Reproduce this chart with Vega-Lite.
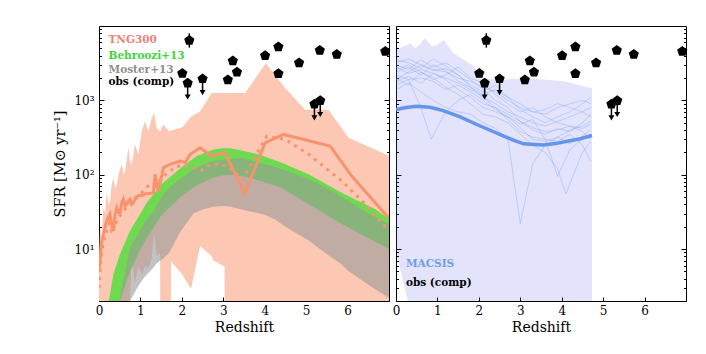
{
  "$schema": "https://vega.github.io/schema/vega-lite/v6.json",
  "background": "white",
  "padding": {"left": 52, "top": 25, "right": 5, "bottom": 5},
  "spacing": 0,
  "config": {
    "view": {"stroke": "black", "strokeWidth": 1},
    "font": "DejaVu Serif",
    "axis": {"grid": false, "domain": false, "labelFont": "DejaVu Serif", "titleFont": "DejaVu Serif", "labelColor": "black", "titleColor": "black", "tickColor": "black", "titleFontWeight": "normal", "labelFontSize": 12, "titleFontSize": 14, "tickWidth": 1}
  },
  "datasets": {
    "tngband": [
      {"z": 0.0, "hi": 6, "lo": 0.5}, {"z": 0.025, "hi": 19.5, "lo": 0.5}, {"z": 0.06, "hi": 14, "lo": 0.5},
      {"z": 0.105, "hi": 36, "lo": 0.5}, {"z": 0.15, "hi": 30, "lo": 0.5}, {"z": 0.186, "hi": 60, "lo": 0.5},
      {"z": 0.23, "hi": 40, "lo": 0.5}, {"z": 0.266, "hi": 44, "lo": 0.5}, {"z": 0.3, "hi": 70, "lo": 0.5},
      {"z": 0.347, "hi": 91, "lo": 0.5}, {"z": 0.39, "hi": 65, "lo": 0.5}, {"z": 0.428, "hi": 74, "lo": 0.5},
      {"z": 0.49, "hi": 110, "lo": 0.5}, {"z": 0.548, "hi": 138, "lo": 0.5}, {"z": 0.6, "hi": 100, "lo": 0.5},
      {"z": 0.629, "hi": 112, "lo": 0.5}, {"z": 0.709, "hi": 230, "lo": 0.5}, {"z": 0.75, "hi": 150, "lo": 2.2},
      {"z": 0.79, "hi": 138, "lo": 7.4}, {"z": 0.87, "hi": 255, "lo": 3.5}, {"z": 0.951, "hi": 188, "lo": 6},
      {"z": 1.031, "hi": 385, "lo": 4.5}, {"z": 1.112, "hi": 523, "lo": 6}, {"z": 1.192, "hi": 385, "lo": 5.5},
      {"z": 1.273, "hi": 580, "lo": 7.5}, {"z": 1.329, "hi": 676, "lo": 16.7}, {"z": 1.393, "hi": 426, "lo": 8},
      {"z": 1.474, "hi": 385, "lo": 9}, {"z": 1.48, "hi": 390, "lo": 0.5}, {"z": 1.555, "hi": 472, "lo": 0.5},
      {"z": 1.691, "hi": 385, "lo": 0.5}, {"z": 1.73, "hi": 390, "lo": 0.5}, {"z": 1.74, "hi": 392, "lo": 6.8},
      {"z": 2.014, "hi": 435, "lo": 4.5}, {"z": 2.22, "hi": 600, "lo": 2.9}, {"z": 2.44, "hi": 713, "lo": 11},
      {"z": 2.722, "hi": 1253, "lo": 8.0}, {"z": 2.76, "hi": 1253, "lo": 7.0}, {"z": 3.03, "hi": 1253, "lo": 5.8},
      {"z": 3.04, "hi": 1253, "lo": 0.5}, {"z": 3.527, "hi": 1253, "lo": 0.5}, {"z": 4.027, "hi": 3155, "lo": 0.5},
      {"z": 4.493, "hi": 1462, "lo": 0.5}, {"z": 4.976, "hi": 750, "lo": 0.5}, {"z": 5.54, "hi": 750, "lo": 0.5},
      {"z": 6.024, "hi": 313, "lo": 0.5}, {"z": 7.0, "hi": 180, "lo": 0.5}
    ],
    "behroozi": [
      {"z": 0.2, "hi": 1.5, "lo": 0.5}, {"z": 0.3, "hi": 3.2, "lo": 0.5}, {"z": 0.35, "hi": 4.6, "lo": 1.2},
      {"z": 0.5, "hi": 8.4, "lo": 2.0}, {"z": 0.75, "hi": 17.6, "lo": 5}, {"z": 1.0, "hi": 30, "lo": 10},
      {"z": 1.15, "hi": 42, "lo": 14}, {"z": 1.5, "hi": 74, "lo": 28}, {"z": 2.0, "hi": 127, "lo": 52},
      {"z": 2.36, "hi": 178, "lo": 72}, {"z": 2.76, "hi": 219, "lo": 92}, {"z": 3.0, "hi": 226, "lo": 98},
      {"z": 3.17, "hi": 226, "lo": 100}, {"z": 3.45, "hi": 212, "lo": 96}, {"z": 3.85, "hi": 188, "lo": 84},
      {"z": 4.41, "hi": 145, "lo": 66}, {"z": 5.06, "hi": 101, "lo": 40}, {"z": 5.86, "hi": 57, "lo": 21.7},
      {"z": 6.67, "hi": 34.4, "lo": 12.5}, {"z": 7.0, "hi": 25.3, "lo": 10}
    ],
    "moster": [
      {"z": 0.45, "hi": 1.5, "lo": 0.5}, {"z": 0.55, "hi": 3, "lo": 1.9}, {"z": 0.75, "hi": 10.5, "lo": 2.0},
      {"z": 0.95, "hi": 16, "lo": 3.2}, {"z": 1.1, "hi": 23, "lo": 4.2}, {"z": 1.3, "hi": 31, "lo": 5.5},
      {"z": 1.4, "hi": 39, "lo": 6.5}, {"z": 1.56, "hi": 55, "lo": 7.5}, {"z": 1.7, "hi": 68, "lo": 9},
      {"z": 1.96, "hi": 87, "lo": 17}, {"z": 2.28, "hi": 118, "lo": 30}, {"z": 2.5, "hi": 135, "lo": 34},
      {"z": 2.76, "hi": 152, "lo": 37}, {"z": 3.0, "hi": 160, "lo": 38}, {"z": 3.17, "hi": 163, "lo": 37},
      {"z": 3.45, "hi": 168, "lo": 34}, {"z": 4.0, "hi": 138, "lo": 29}, {"z": 4.25, "hi": 128, "lo": 25},
      {"z": 4.5, "hi": 115, "lo": 20}, {"z": 5.06, "hi": 87, "lo": 13}, {"z": 5.5, "hi": 66, "lo": 8.5},
      {"z": 5.86, "hi": 50, "lo": 6.2}, {"z": 6.0, "hi": 45, "lo": 5.2}, {"z": 6.5, "hi": 30, "lo": 3.3},
      {"z": 7.0, "hi": 21.7, "lo": 2.2}
    ],
    "tngsolid": [
      {"z": 0.0, "v": 5}, {"z": 0.025, "v": 7}, {"z": 0.06, "v": 12}, {"z": 0.106, "v": 15.9}, {"z": 0.15, "v": 20},
      {"z": 0.186, "v": 24}, {"z": 0.23, "v": 27}, {"z": 0.266, "v": 29.5}, {"z": 0.3, "v": 22}, {"z": 0.347, "v": 17.6},
      {"z": 0.39, "v": 30}, {"z": 0.428, "v": 36}, {"z": 0.47, "v": 31}, {"z": 0.508, "v": 31}, {"z": 0.55, "v": 42},
      {"z": 0.588, "v": 47}, {"z": 0.63, "v": 38}, {"z": 0.669, "v": 40}, {"z": 0.71, "v": 45}, {"z": 0.749, "v": 47},
      {"z": 0.79, "v": 40}, {"z": 0.83, "v": 42}, {"z": 0.89, "v": 50}, {"z": 0.95, "v": 52}, {"z": 1.05, "v": 53},
      {"z": 1.152, "v": 56}, {"z": 1.25, "v": 56}, {"z": 1.313, "v": 57}, {"z": 1.353, "v": 101}, {"z": 1.434, "v": 60.5},
      {"z": 1.555, "v": 124}, {"z": 1.716, "v": 138}, {"z": 1.957, "v": 152}, {"z": 2.08, "v": 145}, {"z": 2.2, "v": 188},
      {"z": 2.44, "v": 230}, {"z": 2.72, "v": 178}, {"z": 3.04, "v": 197}, {"z": 3.52, "v": 56}, {"z": 4.01, "v": 268},
      {"z": 4.45, "v": 348}, {"z": 5.58, "v": 242}, {"z": 6.1, "v": 96}, {"z": 7.0, "v": 26}
    ],
    "tngdot": [
      {"z": 0.0, "v": 3}, {"z": 0.05, "v": 8}, {"z": 0.1, "v": 12}, {"z": 0.186, "v": 17.6}, {"z": 0.25, "v": 22},
      {"z": 0.3, "v": 18}, {"z": 0.43, "v": 24}, {"z": 0.5, "v": 28}, {"z": 0.6, "v": 33}, {"z": 0.75, "v": 40},
      {"z": 0.9, "v": 48}, {"z": 1.07, "v": 60.5}, {"z": 1.23, "v": 74}, {"z": 1.35, "v": 70}, {"z": 1.56, "v": 96},
      {"z": 1.877, "v": 131}, {"z": 2.28, "v": 124}, {"z": 2.48, "v": 115}, {"z": 2.68, "v": 138}, {"z": 2.92, "v": 140},
      {"z": 3.16, "v": 124}, {"z": 3.48, "v": 87}, {"z": 3.69, "v": 145}, {"z": 4.05, "v": 330}, {"z": 4.49, "v": 298},
      {"z": 5.06, "v": 188}, {"z": 5.86, "v": 82}, {"z": 6.35, "v": 44.5}, {"z": 7.0, "v": 17.6}
    ],
    "obs": [
      {"z": 2.18, "v": 6400, "lo": 5120, "hi": 7970, "lim": false},
      {"z": 2.01, "v": 2300, "lim": false},
      {"z": 2.14, "v": 1700, "lo": 1110, "hi": 1700, "lim": true},
      {"z": 2.5, "v": 1950, "lo": 1270, "hi": 1950, "lim": true},
      {"z": 3.11, "v": 1890, "lim": false},
      {"z": 3.23, "v": 3400, "lim": false},
      {"z": 3.33, "v": 2400, "lim": false},
      {"z": 4.01, "v": 4000, "lim": false},
      {"z": 4.33, "v": 5250, "lim": false},
      {"z": 4.33, "v": 2280, "lim": false},
      {"z": 4.83, "v": 3200, "lim": false},
      {"z": 5.33, "v": 4700, "lim": false},
      {"z": 5.74, "v": 4150, "lim": false},
      {"z": 6.91, "v": 4550, "lim": false},
      {"z": 5.2, "v": 890, "lo": 580, "hi": 890, "lim": true},
      {"z": 5.34, "v": 990, "lo": 645, "hi": 990, "lim": true}
    ],
    "legendL": [
      {"z": 0.23, "v": 6450, "t": "TNG300"}, {"z": 0.23, "v": 3960, "t": "Behroozi+13"},
      {"z": 0.23, "v": 2570, "t": "Moster+13"}, {"z": 0.23, "v": 1740, "t": "obs (comp)"}
    ],
    "legendR": [
      {"z": 0.24, "v": 6.2, "t": "MACSIS"}, {"z": 0.24, "v": 3.5, "t": "obs (comp)"}
    ],
    "macband": [
      {"z": 0.0, "hi": 4780, "lo": 9.5}, {"z": 0.18, "hi": 5280, "lo": 3.5}, {"z": 0.3, "hi": 5600, "lo": 1.9},
      {"z": 0.34, "hi": 5850, "lo": 0.5}, {"z": 0.46, "hi": 5020, "lo": 0.5}, {"z": 0.58, "hi": 5670, "lo": 0.5},
      {"z": 0.7, "hi": 6820, "lo": 0.5}, {"z": 0.87, "hi": 5280, "lo": 0.5}, {"z": 0.99, "hi": 5560, "lo": 0.5},
      {"z": 1.15, "hi": 6490, "lo": 0.5}, {"z": 1.39, "hi": 4300, "lo": 0.5}, {"z": 1.83, "hi": 3000, "lo": 0.5},
      {"z": 2.11, "hi": 1990, "lo": 0.5}, {"z": 2.52, "hi": 1890, "lo": 0.5}, {"z": 3.16, "hi": 1990, "lo": 0.5},
      {"z": 4.05, "hi": 1800, "lo": 0.5}, {"z": 4.73, "hi": 1460, "lo": 0.5}
    ],
    "macmed": [
      {"z": 0.0, "v": 750}, {"z": 0.25, "v": 800}, {"z": 0.5, "v": 830}, {"z": 0.82, "v": 806}, {"z": 1.14, "v": 728},
      {"z": 1.55, "v": 600}, {"z": 1.95, "v": 473}, {"z": 2.3, "v": 390}, {"z": 2.6, "v": 330}, {"z": 2.85, "v": 290},
      {"z": 3.08, "v": 260}, {"z": 3.56, "v": 250}, {"z": 3.85, "v": 262}, {"z": 4.13, "v": 282}, {"z": 4.45, "v": 305},
      {"z": 4.73, "v": 337}
    ],
    "macthin": [
      {"id": 1, "z": 0.0, "v": 2400}, {"id": 1, "z": 0.3, "v": 2800}, {"id": 1, "z": 0.6, "v": 2200}, {"id": 1, "z": 0.9, "v": 3000}, {"id": 1, "z": 1.2, "v": 2500}, {"id": 1, "z": 1.5, "v": 1800}, {"id": 1, "z": 1.8, "v": 1500}, {"id": 1, "z": 2.1, "v": 1100}, {"id": 1, "z": 2.4, "v": 900}, {"id": 1, "z": 2.7, "v": 700}, {"id": 1, "z": 3.0, "v": 600}, {"id": 1, "z": 3.3, "v": 500}, {"id": 1, "z": 3.6, "v": 450}, {"id": 1, "z": 3.9, "v": 520}, {"id": 1, "z": 4.2, "v": 600}, {"id": 1, "z": 4.5, "v": 700}, {"id": 1, "z": 4.7, "v": 800},
      {"id": 2, "z": 0.0, "v": 3000}, {"id": 2, "z": 0.3, "v": 2600}, {"id": 2, "z": 0.6, "v": 3500}, {"id": 2, "z": 0.9, "v": 2800}, {"id": 2, "z": 1.2, "v": 3200}, {"id": 2, "z": 1.5, "v": 2500}, {"id": 2, "z": 1.8, "v": 1900}, {"id": 2, "z": 2.1, "v": 1400}, {"id": 2, "z": 2.4, "v": 1000}, {"id": 2, "z": 2.7, "v": 800}, {"id": 2, "z": 3.0, "v": 520}, {"id": 2, "z": 3.3, "v": 400}, {"id": 2, "z": 3.6, "v": 350}, {"id": 2, "z": 3.9, "v": 420}, {"id": 2, "z": 4.2, "v": 380}, {"id": 2, "z": 4.5, "v": 500}, {"id": 2, "z": 4.7, "v": 650},
      {"id": 3, "z": 0.0, "v": 1800}, {"id": 3, "z": 0.3, "v": 2100}, {"id": 3, "z": 0.6, "v": 1700}, {"id": 3, "z": 0.9, "v": 2300}, {"id": 3, "z": 1.2, "v": 1900}, {"id": 3, "z": 1.5, "v": 1400}, {"id": 3, "z": 1.8, "v": 1100}, {"id": 3, "z": 2.1, "v": 800}, {"id": 3, "z": 2.4, "v": 700}, {"id": 3, "z": 2.7, "v": 600}, {"id": 3, "z": 3.0, "v": 430}, {"id": 3, "z": 3.3, "v": 300}, {"id": 3, "z": 3.6, "v": 280}, {"id": 3, "z": 3.9, "v": 320}, {"id": 3, "z": 4.2, "v": 400}, {"id": 3, "z": 4.5, "v": 450}, {"id": 3, "z": 4.7, "v": 520},
      {"id": 4, "z": 0.0, "v": 2000}, {"id": 4, "z": 0.3, "v": 1600}, {"id": 4, "z": 0.6, "v": 2400}, {"id": 4, "z": 0.9, "v": 1900}, {"id": 4, "z": 1.2, "v": 2200}, {"id": 4, "z": 1.5, "v": 2800}, {"id": 4, "z": 1.8, "v": 2000}, {"id": 4, "z": 2.1, "v": 1700}, {"id": 4, "z": 2.4, "v": 1200}, {"id": 4, "z": 2.7, "v": 900}, {"id": 4, "z": 3.0, "v": 700}, {"id": 4, "z": 3.3, "v": 800}, {"id": 4, "z": 3.6, "v": 600}, {"id": 4, "z": 3.9, "v": 500}, {"id": 4, "z": 4.2, "v": 450}, {"id": 4, "z": 4.5, "v": 380}, {"id": 4, "z": 4.7, "v": 300},
      {"id": 5, "z": 0.0, "v": 3500}, {"id": 5, "z": 0.3, "v": 3200}, {"id": 5, "z": 0.6, "v": 2700}, {"id": 5, "z": 0.9, "v": 3600}, {"id": 5, "z": 1.2, "v": 2900}, {"id": 5, "z": 1.5, "v": 2200}, {"id": 5, "z": 1.8, "v": 1600}, {"id": 5, "z": 2.1, "v": 1300}, {"id": 5, "z": 2.4, "v": 1600}, {"id": 5, "z": 2.7, "v": 1100}, {"id": 5, "z": 3.0, "v": 900}, {"id": 5, "z": 3.3, "v": 700}, {"id": 5, "z": 3.6, "v": 650}, {"id": 5, "z": 3.9, "v": 800}, {"id": 5, "z": 4.2, "v": 900}, {"id": 5, "z": 4.5, "v": 1000}, {"id": 5, "z": 4.7, "v": 900},
      {"id": 6, "z": 0.0, "v": 1400}, {"id": 6, "z": 0.3, "v": 1700}, {"id": 6, "z": 0.6, "v": 1300}, {"id": 6, "z": 0.9, "v": 1000}, {"id": 6, "z": 1.2, "v": 800}, {"id": 6, "z": 1.5, "v": 700}, {"id": 6, "z": 1.8, "v": 650}, {"id": 6, "z": 2.1, "v": 500}, {"id": 6, "z": 2.4, "v": 420}, {"id": 6, "z": 2.7, "v": 300}, {"id": 6, "z": 3.0, "v": 22}, {"id": 6, "z": 3.3, "v": 140}, {"id": 6, "z": 3.6, "v": 250}, {"id": 6, "z": 3.9, "v": 320}, {"id": 6, "z": 4.2, "v": 260}, {"id": 6, "z": 4.5, "v": 330}, {"id": 6, "z": 4.7, "v": 400},
      {"id": 7, "z": 0.0, "v": 2600}, {"id": 7, "z": 0.3, "v": 3000}, {"id": 7, "z": 0.6, "v": 2400}, {"id": 7, "z": 0.9, "v": 2000}, {"id": 7, "z": 1.2, "v": 1500}, {"id": 7, "z": 1.5, "v": 1200}, {"id": 7, "z": 1.8, "v": 900}, {"id": 7, "z": 2.1, "v": 650}, {"id": 7, "z": 2.4, "v": 600}, {"id": 7, "z": 2.7, "v": 500}, {"id": 7, "z": 3.0, "v": 350}, {"id": 7, "z": 3.3, "v": 250}, {"id": 7, "z": 3.6, "v": 200}, {"id": 7, "z": 3.9, "v": 120}, {"id": 7, "z": 4.1, "v": 55}, {"id": 7, "z": 4.5, "v": 200}, {"id": 7, "z": 4.7, "v": 280},
      {"id": 8, "z": 0.0, "v": 1600}, {"id": 8, "z": 0.3, "v": 1900}, {"id": 8, "z": 0.6, "v": 2000}, {"id": 8, "z": 0.9, "v": 1800}, {"id": 8, "z": 1.2, "v": 1400}, {"id": 8, "z": 1.5, "v": 1600}, {"id": 8, "z": 1.8, "v": 1300}, {"id": 8, "z": 2.1, "v": 1000}, {"id": 8, "z": 2.4, "v": 750}, {"id": 8, "z": 2.7, "v": 600}, {"id": 8, "z": 3.0, "v": 480}, {"id": 8, "z": 3.3, "v": 550}, {"id": 8, "z": 3.6, "v": 300}, {"id": 8, "z": 3.9, "v": 95}, {"id": 8, "z": 4.2, "v": 220}, {"id": 8, "z": 4.5, "v": 300}, {"id": 8, "z": 4.7, "v": 350},
      {"id": 9, "z": 0.0, "v": 2200}, {"id": 9, "z": 0.3, "v": 1900}, {"id": 9, "z": 0.6, "v": 800}, {"id": 9, "z": 0.85, "v": 300}, {"id": 9, "z": 1.2, "v": 700}, {"id": 9, "z": 1.5, "v": 1000}, {"id": 9, "z": 1.8, "v": 1200}, {"id": 9, "z": 2.1, "v": 900}, {"id": 9, "z": 2.4, "v": 800}, {"id": 9, "z": 2.7, "v": 650}, {"id": 9, "z": 3.0, "v": 520}, {"id": 9, "z": 3.3, "v": 430}, {"id": 9, "z": 3.6, "v": 380}, {"id": 9, "z": 3.9, "v": 400}, {"id": 9, "z": 4.2, "v": 450}, {"id": 9, "z": 4.5, "v": 420}, {"id": 9, "z": 4.7, "v": 480},
      {"id": 10, "z": 0.0, "v": 2800}, {"id": 10, "z": 0.3, "v": 2300}, {"id": 10, "z": 0.6, "v": 2600}, {"id": 10, "z": 0.9, "v": 2300}, {"id": 10, "z": 1.2, "v": 2000}, {"id": 10, "z": 1.5, "v": 1700}, {"id": 10, "z": 1.8, "v": 1400}, {"id": 10, "z": 2.1, "v": 1100}, {"id": 10, "z": 2.4, "v": 800}, {"id": 10, "z": 2.7, "v": 550}, {"id": 10, "z": 3.0, "v": 380}, {"id": 10, "z": 3.3, "v": 320}, {"id": 10, "z": 3.6, "v": 300}, {"id": 10, "z": 3.9, "v": 280}, {"id": 10, "z": 4.2, "v": 350}, {"id": 10, "z": 4.5, "v": 250}, {"id": 10, "z": 4.7, "v": 152},
      {"id": 11, "z": 0.0, "v": 1900}, {"id": 11, "z": 0.3, "v": 2400}, {"id": 11, "z": 0.6, "v": 3000}, {"id": 11, "z": 0.9, "v": 2600}, {"id": 11, "z": 1.2, "v": 2400}, {"id": 11, "z": 1.5, "v": 2000}, {"id": 11, "z": 1.8, "v": 1800}, {"id": 11, "z": 2.1, "v": 1500}, {"id": 11, "z": 2.4, "v": 1300}, {"id": 11, "z": 2.7, "v": 1000}, {"id": 11, "z": 3.0, "v": 800}, {"id": 11, "z": 3.3, "v": 700}, {"id": 11, "z": 3.6, "v": 750}, {"id": 11, "z": 3.9, "v": 900}, {"id": 11, "z": 4.2, "v": 800}, {"id": 11, "z": 4.5, "v": 700}, {"id": 11, "z": 4.7, "v": 600},
      {"id": 12, "z": 0.0, "v": 3200}, {"id": 12, "z": 0.3, "v": 3600}, {"id": 12, "z": 0.6, "v": 3000}, {"id": 12, "z": 0.9, "v": 2500}, {"id": 12, "z": 1.2, "v": 2700}, {"id": 12, "z": 1.5, "v": 2200}, {"id": 12, "z": 1.8, "v": 1500}, {"id": 12, "z": 2.1, "v": 1200}, {"id": 12, "z": 2.4, "v": 1400}, {"id": 12, "z": 2.7, "v": 1100}, {"id": 12, "z": 3.0, "v": 750}, {"id": 12, "z": 3.3, "v": 600}, {"id": 12, "z": 3.6, "v": 500}, {"id": 12, "z": 3.9, "v": 600}, {"id": 12, "z": 4.2, "v": 700}, {"id": 12, "z": 4.5, "v": 900}, {"id": 12, "z": 4.7, "v": 1100}
    ]
  },
  "hconcat": [
    {
      "width": 290,
      "height": 275,
      "resolve": {"axis": {"y": "independent", "x": "independent"}},
      "layer": [
        {
          "data": {"name": "tngband"},
          "mark": {"type": "area", "color": "#fcc8b4", "opacity": 1, "clip": true},
          "encoding": {
            "x": {"field": "z", "type": "quantitative", "scale": {"domain": [0, 7], "nice": false, "zero": false},
              "axis": {"orient": "bottom", "values": [0, 1, 2, 3, 4, 5, 6], "tickSize": -4, "labelPadding": 8, "title": "Redshift", "titlePadding": 4, "format": "d", "labelFlush": false}},
            "y": {"field": "hi", "type": "quantitative", "scale": {"type": "log", "domain": [2, 10000], "nice": false},
              "axis": {"orient": "left", "values": [10, 100, 1000], "tickSize": -5, "labelPadding": 10, "labelExpr": "datum.value == 10 ? '10¹' : datum.value == 100 ? '10²' : '10³'", "title": "SFR [M⊙ yr⁻¹]", "titlePadding": 6, "titleFontSize": 14.5}},
            "y2": {"field": "lo"}
          }
        },
        {
          "data": {"name": "behroozi"},
          "mark": {"type": "area", "color": "#5fdb44", "opacity": 0.9, "clip": true},
          "encoding": {
            "x": {"field": "z", "type": "quantitative", "axis": null},
            "y": {"field": "hi", "type": "quantitative",
              "axis": {"orient": "left", "values": [2,3,4,5,6,7,8,9,20,30,40,50,60,70,80,90,200,300,400,500,600,700,800,900,2000,3000,4000,5000,6000,7000,8000,9000], "tickSize": -2.5, "labels": false, "title": null}},
            "y2": {"field": "lo"}
          }
        },
        {
          "data": {"name": "moster"},
          "mark": {"type": "area", "color": "#999999", "opacity": 0.6, "clip": true},
          "encoding": {
            "x": {"field": "z", "type": "quantitative", "axis": null},
            "y": {"field": "hi", "type": "quantitative",
              "axis": {"orient": "right", "values": [10, 100, 1000], "tickSize": -5, "labels": false, "title": null}},
            "y2": {"field": "lo"}
          }
        },
        {
          "data": {"name": "tngsolid"},
          "mark": {"type": "line", "color": "#f8936e", "strokeWidth": 3, "clip": true},
          "encoding": {
            "x": {"field": "z", "type": "quantitative", "axis": null},
            "y": {"field": "v", "type": "quantitative",
              "axis": {"orient": "right", "values": [2,3,4,5,6,7,8,9,20,30,40,50,60,70,80,90,200,300,400,500,600,700,800,900,2000,3000,4000,5000,6000,7000,8000,9000], "tickSize": -2.5, "labels": false, "title": null}}
          }
        },
        {
          "data": {"name": "tngdot"},
          "mark": {"type": "line", "color": "#f8936e", "strokeWidth": 3, "strokeDash": [3, 5], "clip": true},
          "encoding": {
            "x": {"field": "z", "type": "quantitative", "axis": null},
            "y": {"field": "v", "type": "quantitative", "axis": null}
          }
        },
        {
          "data": {"name": "obs"},
          "transform": [{"filter": "isValid(datum.lo)"}],
          "mark": {"type": "rule", "color": "black", "strokeWidth": 1.5},
          "encoding": {
            "x": {"field": "z", "type": "quantitative", "axis": null},
            "y": {"field": "lo", "type": "quantitative", "axis": null},
            "y2": {"field": "hi"}
          }
        },
        {
          "data": {"name": "obs"},
          "transform": [{"filter": "datum.lim"}],
          "mark": {"type": "point", "shape": "triangle-down", "filled": true, "color": "black", "opacity": 1, "size": 35},
          "encoding": {
            "x": {"field": "z", "type": "quantitative", "axis": null},
            "y": {"field": "lo", "type": "quantitative", "axis": null}
          }
        },
        {
          "data": {"name": "obs"},
          "mark": {"type": "point", "shape": "M0,-1L0.951,-0.309L0.588,0.809L-0.588,0.809L-0.951,-0.309Z", "filled": true, "color": "black", "opacity": 1, "size": 115},
          "encoding": {
            "x": {"field": "z", "type": "quantitative", "axis": null},
            "y": {"field": "v", "type": "quantitative", "axis": null}
          }
        },
        {
          "data": {"name": "legendL"},
          "mark": {"type": "text", "align": "left", "baseline": "middle", "fontWeight": "bold", "fontSize": 10.5, "font": "DejaVu Serif"},
          "encoding": {
            "x": {"field": "z", "type": "quantitative", "axis": null},
            "y": {"field": "v", "type": "quantitative", "axis": null},
            "text": {"field": "t"},
            "color": {"field": "t", "type": "nominal", "legend": null,
              "scale": {"domain": ["TNG300", "Behroozi+13", "Moster+13", "obs (comp)", "MACSIS"], "range": ["#f47e78", "#3cd43c", "#8f8f8f", "#000000", "#6f9ceb"]}}
          }
        }
      ]
    },
    {
      "width": 290,
      "height": 275,
      "resolve": {"axis": {"y": "independent", "x": "independent"}},
      "layer": [
        {
          "data": {"name": "macband"},
          "mark": {"type": "area", "color": "#6464f0", "opacity": 0.18, "clip": true},
          "encoding": {
            "x": {"field": "z", "type": "quantitative", "scale": {"domain": [0, 7], "nice": false, "zero": false},
              "axis": {"orient": "bottom", "values": [0, 1, 2, 3, 4, 5, 6], "tickSize": -4, "labelPadding": 8, "title": "Redshift", "titlePadding": 4, "format": "d", "labelFlush": false}},
            "y": {"field": "hi", "type": "quantitative", "scale": {"type": "log", "domain": [2, 10000], "nice": false},
              "axis": {"orient": "left", "values": [10, 100, 1000], "tickSize": -5, "labels": false, "title": null}},
            "y2": {"field": "lo"}
          }
        },
        {
          "data": {"name": "macthin"},
          "mark": {"type": "line", "color": "#6495ed", "opacity": 0.35, "strokeWidth": 0.9, "clip": true},
          "encoding": {
            "x": {"field": "z", "type": "quantitative", "axis": null},
            "y": {"field": "v", "type": "quantitative",
              "axis": {"orient": "left", "values": [2,3,4,5,6,7,8,9,20,30,40,50,60,70,80,90,200,300,400,500,600,700,800,900,2000,3000,4000,5000,6000,7000,8000,9000], "tickSize": -2.5, "labels": false, "title": null}},
            "detail": {"field": "id", "type": "nominal"}
          }
        },
        {
          "data": {"name": "macmed"},
          "mark": {"type": "line", "color": "#6495ed", "strokeWidth": 3.5, "clip": true},
          "encoding": {
            "x": {"field": "z", "type": "quantitative", "axis": null},
            "y": {"field": "v", "type": "quantitative",
              "axis": {"orient": "right", "values": [10, 100, 1000], "tickSize": -5, "labels": false, "title": null}}
          }
        },
        {
          "data": {"name": "obs"},
          "transform": [{"filter": "isValid(datum.lo)"}],
          "mark": {"type": "rule", "color": "black", "strokeWidth": 1.5},
          "encoding": {
            "x": {"field": "z", "type": "quantitative", "axis": null},
            "y": {"field": "lo", "type": "quantitative",
              "axis": {"orient": "right", "values": [2,3,4,5,6,7,8,9,20,30,40,50,60,70,80,90,200,300,400,500,600,700,800,900,2000,3000,4000,5000,6000,7000,8000,9000], "tickSize": -2.5, "labels": false, "title": null}},
            "y2": {"field": "hi"}
          }
        },
        {
          "data": {"name": "obs"},
          "transform": [{"filter": "datum.lim"}],
          "mark": {"type": "point", "shape": "triangle-down", "filled": true, "color": "black", "opacity": 1, "size": 35},
          "encoding": {
            "x": {"field": "z", "type": "quantitative", "axis": null},
            "y": {"field": "lo", "type": "quantitative", "axis": null}
          }
        },
        {
          "data": {"name": "obs"},
          "mark": {"type": "point", "shape": "M0,-1L0.951,-0.309L0.588,0.809L-0.588,0.809L-0.951,-0.309Z", "filled": true, "color": "black", "opacity": 1, "size": 115},
          "encoding": {
            "x": {"field": "z", "type": "quantitative", "axis": null},
            "y": {"field": "v", "type": "quantitative", "axis": null}
          }
        },
        {
          "data": {"name": "legendR"},
          "mark": {"type": "text", "align": "left", "baseline": "middle", "fontWeight": "bold", "fontSize": 10.5, "font": "DejaVu Serif"},
          "encoding": {
            "x": {"field": "z", "type": "quantitative", "axis": null},
            "y": {"field": "v", "type": "quantitative", "axis": null},
            "text": {"field": "t"},
            "color": {"field": "t", "type": "nominal", "legend": null,
              "scale": {"domain": ["TNG300", "Behroozi+13", "Moster+13", "obs (comp)", "MACSIS"], "range": ["#f47e78", "#3cd43c", "#8f8f8f", "#000000", "#6f9ceb"]}}
          }
        }
      ]
    }
  ]
}
